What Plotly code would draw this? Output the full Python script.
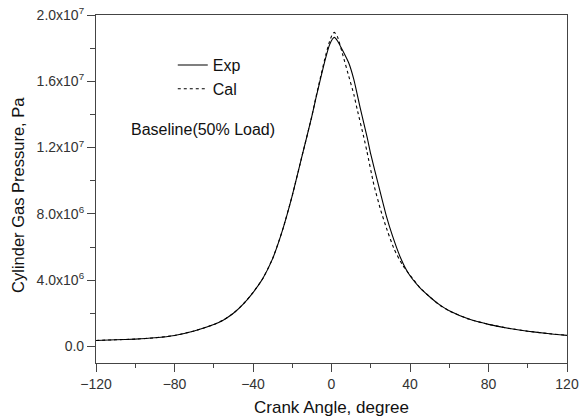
import plotly.graph_objects as go

# Experimental data (crank angle in degrees, pressure in MPa -> Pa)
exp_angle = [-120, -110, -100, -90, -80, -70, -60, -55, -50, -45, -40, -35, -30, -25, -20, -15, -10, -8, -5.5, -3, -1, 0.5, 1.5, 3, 5.5, 8.8, 11.4, 14.8, 18.2, 20, 24, 28, 31, 35, 39, 45, 50, 55, 60, 70, 80, 90, 100, 110, 120]
exp_p_mpa = [0.36, 0.40, 0.44, 0.52, 0.66, 0.93, 1.32, 1.6, 2.0, 2.55, 3.25, 4.1, 5.3, 7.0, 9.1, 11.5, 13.9, 14.95, 16.2, 17.4, 18.2, 18.55, 18.65, 18.45, 17.9, 17.1, 16.1, 14.3, 12.6, 11.6, 9.7, 7.85, 6.7, 5.4, 4.45, 3.55, 3.0, 2.52, 2.15, 1.65, 1.33, 1.1, 0.92, 0.78, 0.67]

cal_angle = [-120, -110, -100, -90, -80, -70, -60, -55, -50, -45, -40, -35, -30, -25, -20, -15, -10, -8, -5.5, -3, -1, 0.5, 1.5, 3, 5.5, 8.8, 11.4, 13.1, 16.5, 18, 21.6, 25, 28.4, 32, 36, 40, 45, 50, 55, 60, 70, 80, 90, 100, 110, 120]
cal_p_mpa = [0.36, 0.40, 0.44, 0.52, 0.66, 0.93, 1.32, 1.6, 2.0, 2.55, 3.25, 4.1, 5.3, 7.0, 9.1, 11.5, 13.9, 15.0, 16.3, 17.55, 18.4, 18.85, 18.95, 18.7, 17.7, 16.3, 15.2, 14.3, 12.6, 11.8, 9.75, 8.25, 7.0, 5.85, 4.95, 4.3, 3.55, 3.0, 2.5, 2.14, 1.65, 1.33, 1.1, 0.92, 0.78, 0.67]

y_tickvals = [0, 4e6, 8e6, 1.2e7, 1.6e7, 2.0e7]
y_ticktext = ["0.0", "4.0x10<sup>6</sup>", "8.0x10<sup>6</sup>", "1.2x10<sup>7</sup>", "1.6x10<sup>7</sup>", "2.0x10<sup>7</sup>"]
x_tickvals = [-120, -80, -40, 0, 40, 80, 120]

exp_p = [v * 1e6 for v in exp_p_mpa]
cal_p = [v * 1e6 for v in cal_p_mpa]

FONT = "Liberation Sans, Arial, sans-serif"
AX = "#444444"

fig = go.Figure()
fig.add_trace(go.Scatter(x=exp_angle, y=exp_p, mode="lines", name="Exp",
                         line=dict(color="black", width=1.1, shape="spline", smoothing=0.5)))
fig.add_trace(go.Scatter(x=cal_angle, y=cal_p, mode="lines", name="Cal",
                         line=dict(color="black", width=1.1, dash="dot", shape="spline", smoothing=0.5)))

fig.update_layout(
    width=579, height=418,
    margin=dict(l=96, r=12, t=15, b=55),
    plot_bgcolor="white", paper_bgcolor="white",
    font=dict(family=FONT, color="#222222", size=14),
    showlegend=True,
    legend=dict(x=0.163, y=0.905, xanchor="left", yanchor="top",
                bgcolor="rgba(0,0,0,0)", font=dict(size=16, color="#111111"),
                tracegroupgap=0, itemwidth=30),
    annotations=[
        dict(text="Baseline(50% Load)", x=0.07, y=0.67, xref="paper", yref="paper",
             xanchor="left", yanchor="middle", showarrow=False,
             font=dict(size=16, color="#111111", family=FONT)),
        dict(text="Cylinder Gas Pressure, Pa", x=-0.1656, y=0.483, xref="paper", yref="paper",
             xanchor="center", yanchor="middle", textangle=-90, showarrow=False,
             font=dict(size=16.5, color="#111111", family=FONT)),
    ],
)

fig.update_xaxes(
    range=[-120, 120], tickvals=x_tickvals, ticks="outside", ticklen=8, tickwidth=1,
    tickcolor=AX, showline=True, linecolor=AX, linewidth=1.2, mirror=True,
    showgrid=False, zeroline=False, automargin=False,
    tickfont=dict(size=14, color="#333333"),
    minor=dict(dtick=20, ticks="outside", ticklen=4, tickcolor=AX, showgrid=False),
    title=dict(text="Crank Angle, degree", font=dict(size=17, color="#111111"), standoff=10),
)
fig.update_yaxes(
    range=[-1e6, 2e7], tickvals=y_tickvals, ticktext=y_ticktext, ticks="outside",
    ticklen=8, tickwidth=1, tickcolor=AX, showline=True, linecolor=AX, linewidth=1.2,
    mirror=True, showgrid=False, zeroline=False, automargin=False,
    tickfont=dict(size=14, color="#333333"),
    minor=dict(dtick=2e6, tick0=0, ticks="outside", ticklen=5, tickcolor=AX, showgrid=False),
)

fig.write_html("out.html")
